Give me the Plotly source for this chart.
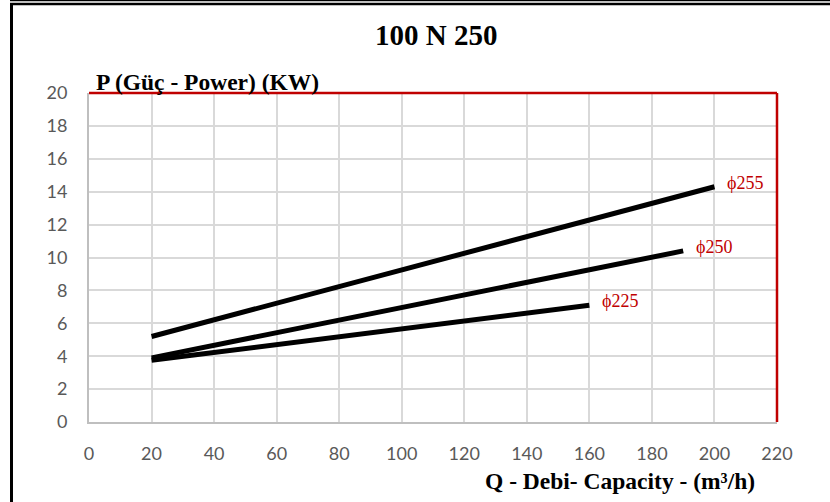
import plotly.graph_objects as go

# ---- data ----
series_names = ["\u03d5255", "\u03d5250", "\u03d5225"]
q_255 = [20, 200]
p_255 = [5.2, 14.3]
q_250 = [20, 190]
p_250 = [3.9, 10.4]
q_225 = [20, 160]
p_225 = [3.75, 7.1]
x_ticks = [0, 20, 40, 60, 80, 100, 120, 140, 160, 180, 200, 220]
y_ticks = [0, 2, 4, 6, 8, 10, 12, 14, 16, 18, 20]
title_text = "100 N 250"
y_title = "P (Güç - Power) (KW)"
x_title = "Q - Debi- Capacity - (m\u00b3/h)"

# ---- layout geometry (pixels) ----
W, H = 830, 502
L, R, T, B = 89, 53, 93, 80
PW, PH = W - L - R, H - T - B

def px(x):
    return (x - L) / PW

def py(y):
    return 1 - (y - T) / PH

SERIF = "Liberation Serif, Times New Roman, serif"
RED = "#c00000"

fig = go.Figure()
for name, xs, ys in [(series_names[0], q_255, p_255),
                     (series_names[1], q_250, p_250),
                     (series_names[2], q_225, p_225)]:
    fig.add_trace(go.Scatter(x=xs, y=ys, mode="lines", name=name,
                             line=dict(color="black", width=5),
                             showlegend=False, hoverinfo="skip"))
    fig.add_annotation(x=xs[-1], y=ys[-1], text=name, showarrow=False,
                       xanchor="left", yanchor="middle", xshift=11, yshift=4,
                       font=dict(family=SERIF, size=18, color=RED))

annots = [
    dict(text="<b>" + title_text + "</b>", x=px(436), y=py(35), xref="paper", yref="paper",
         xanchor="center", yanchor="middle", showarrow=False,
         font=dict(family=SERIF, size=29, color="black")),
    dict(text="<b>" + y_title + "</b>", x=px(94), y=py(82), xref="paper", yref="paper",
         xanchor="left", yanchor="middle", showarrow=False,
         font=dict(family=SERIF, size=23.5, color="black")),
    dict(text="<b>" + x_title + "</b>", x=px(757), y=py(481), xref="paper", yref="paper",
         xanchor="right", yanchor="middle", showarrow=False,
         font=dict(family=SERIF, size=23.5, color="black")),
]
for a in annots:
    fig.add_annotation(**a)

shapes = [
    # red top and right frame of plot area
    dict(type="line", xref="paper", yref="paper", x0=0, x1=1, y0=1, y1=1,
         line=dict(color=RED, width=2.5)),
    dict(type="line", xref="paper", yref="paper", x0=1, x1=1, y0=0, y1=1,
         line=dict(color=RED, width=2.5)),
    # outer black border (left + top double line)
    dict(type="line", xref="paper", yref="paper", x0=px(11.5), x1=px(11.5), y0=py(503), y1=py(3),
         line=dict(color="black", width=3)),
    dict(type="line", xref="paper", yref="paper", x0=px(10), x1=px(831), y0=py(4), y1=py(4),
         line=dict(color="black", width=2.5)),
    dict(type="line", xref="paper", yref="paper", x0=px(10), x1=px(831), y0=py(0.5), y1=py(0.5),
         line=dict(color="black", width=1.5)),
]

fig.update_layout(
    width=W, height=H,
    margin=dict(l=L, r=R, t=T, b=B, pad=0),
    paper_bgcolor="white", plot_bgcolor="white",
    shapes=shapes,
    xaxis=dict(range=[0, 220], tickvals=x_ticks, showgrid=True, gridcolor="#d9d9d9", gridwidth=2,
               showline=True, linecolor="#bfbfbf", linewidth=2, zeroline=False,
               ticks="outside", ticklen=14, tickcolor="rgba(0,0,0,0)",
               tickfont=dict(family="Lato, sans-serif", size=18, color="#595959")),
    yaxis=dict(range=[0, 20], tickvals=y_ticks, showgrid=True, gridcolor="#d9d9d9", gridwidth=2,
               showline=True, linecolor="#bfbfbf", linewidth=2, zeroline=False,
               ticks="outside", ticklen=16, tickcolor="rgba(0,0,0,0)",
               tickfont=dict(family="Lato, sans-serif", size=18, color="#595959")),
)

fig.write_html("out.html", config={"displayModeBar": False},
               post_script="document.body.style.margin='0';document.body.style.overflow='hidden';")
